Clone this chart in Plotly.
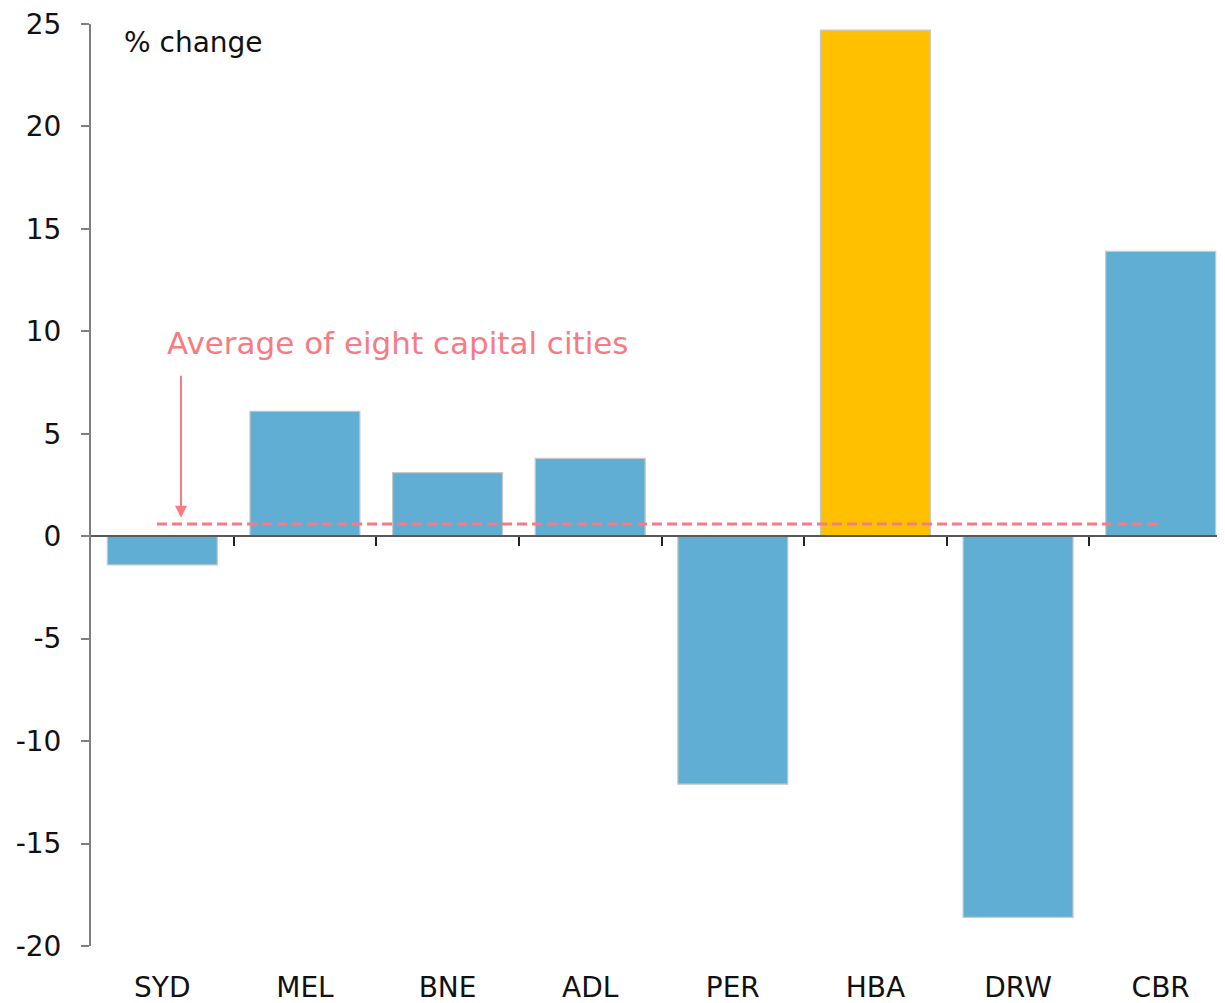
import plotly.graph_objects as go

cities = ["SYD", "MEL", "BNE", "ADL", "PER", "HBA", "DRW", "CBR"]
pct_change = [-1.4, 6.1, 3.1, 3.8, -12.1, 24.7, -18.6, 13.9]
highlight = "HBA"
average_value = 0.6
y_ticks = [-20, -15, -10, -5, 0, 5, 10, 15, 20, 25]
y_tick_labels = ["-20", "-15", "-10", "-5", "0", "5", "10", "15", "20", "25"]

BLUE = "#61AED5"
GOLD = "#FFC000"
PINK = "#F77B83"
FONT = "DejaVu Sans"

# page body has an 8px margin; the plot area runs slightly past the right edge
W, H = 1224, 995
L, T, B, R = 83, 16, 57, 0
plot_w = W - L - R
plot_h = H - T - B

xpos = list(range(len(cities)))
colors = [GOLD if c == highlight else BLUE for c in cities]

fig = go.Figure()
fig.add_trace(go.Bar(
    x=xpos, y=pct_change,
    marker=dict(color=colors, line=dict(color="#C8C8C8", width=1.2)),
    showlegend=False,
))
fig.add_trace(go.Scatter(x=[None], y=[None], xaxis="x2", showlegend=False))

fig.update_layout(
    width=W, height=H,
    margin=dict(l=L, r=R, t=T, b=B, autoexpand=False),
    plot_bgcolor="white", paper_bgcolor="white",
    bargap=0.229,
    font=dict(family=FONT, size=28, color="#111111"),
    xaxis=dict(
        range=[-0.5, 7.5], tickmode="array", tickvals=xpos, ticktext=cities,
        showline=False, showgrid=False, zeroline=False, ticks="",
        ticklabelstandoff=22, automargin=False, ticklabeloverflow="allow",
    ),
    xaxis2=dict(
        range=[-0.5, 7.5], overlaying="x", anchor="free", position=20/45,
        tickmode="array", tickvals=[i + 0.5 for i in xpos[:-1]],
        showticklabels=False, showline=True, linecolor="#595959", linewidth=2,
        ticks="outside", ticklen=9, tickcolor="#222222", tickwidth=2,
        showgrid=False, zeroline=False, automargin=False,
    ),
    yaxis=dict(
        range=[-20, 25], tickmode="array", tickvals=y_ticks, ticktext=y_tick_labels,
        showline=True, linecolor="#7F7F7F", linewidth=2,
        ticks="outside", ticklen=8, tickcolor="#7F7F7F", tickwidth=2,
        showgrid=False, zeroline=False, automargin=False,
        ticklabelstandoff=14, ticklabeloverflow="allow",
    ),
)

fig.add_shape(type="line", xref="x", yref="y", x0=-0.037, x1=6.975,
              y0=average_value, y1=average_value,
              line=dict(color=PINK, width=3, dash="10px,5px"))

fig.add_annotation(x=0.131, y=average_value + 0.3, ax=0.131, ay=7.9,
                   xref="x", yref="y", axref="x", ayref="y",
                   text="", showarrow=True, arrowhead=2, arrowsize=1.2,
                   arrowwidth=2, arrowcolor=PINK)
fig.add_annotation(x=0.02, y=9.45, xref="x", yref="y", xanchor="left", yanchor="middle",
                   text="Average of eight capital cities", showarrow=False,
                   font=dict(color=PINK, size=31, family=FONT))
fig.add_annotation(x=(122 - 91) / plot_w, y=(946 - 43) / plot_h,
                   xref="paper", yref="paper", xanchor="left", yanchor="middle",
                   showarrow=False, text="% change", font=dict(size=28, family=FONT))

fig.write_html("out.html")
